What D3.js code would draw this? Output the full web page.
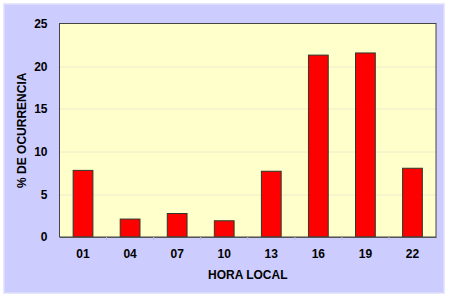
<!DOCTYPE html>
<html>
<head>
<meta charset="utf-8">
<script src="https://cdn.jsdelivr.net/npm/d3@7"></script>
<style>
body { margin: 0; background: #ffffff; }
text { font-family: Arial, "Liberation Sans", sans-serif; font-weight: bold; }
</style>
</head>
<body>
<div id="chart"></div>
<script>
var horas = ["01", "04", "07", "10", "13", "16", "19", "22"];
var ocurrencia = [7.8, 2.1, 2.75, 1.9, 7.7, 21.3, 21.55, 8.05];
var yTicks = [0, 5, 10, 15, 20, 25];

var width = 450, height = 300;
var margin = { top: 23.5, right: 14, bottom: 63, left: 59.5 };
var plotW = width - margin.left - margin.right,
    plotH = height - margin.top - margin.bottom;

var svg = d3.select("#chart").append("svg")
    .attr("width", width)
    .attr("height", height);

// outer lavender panel
svg.append("rect")
    .attr("x", 4).attr("y", 4)
    .attr("width", 440).attr("height", 289)
    .attr("fill", "#ccccff")
    .attr("stroke", "#e0e0fa")
    .attr("stroke-width", 1.5);

var g = svg.append("g")
    .attr("transform", "translate(" + margin.left + "," + margin.top + ")");

var xScale = d3.scaleBand()
    .domain(horas)
    .range([0, plotW])
    .paddingInner(0.58)
    .paddingOuter(0.29);

var yScale = d3.scaleLinear()
    .domain([0, 25])
    .range([plotH, 0]);

// plot background
g.append("rect")
    .attr("width", plotW).attr("height", plotH)
    .attr("fill", "#ffffcc");

// gridlines
g.selectAll(".grid")
    .data(yTicks.slice(1, -1))
    .enter().append("line")
    .attr("x1", 0).attr("x2", plotW)
    .attr("y1", d => Math.round(yScale(d)) + 0.5)
    .attr("y2", d => Math.round(yScale(d)) + 0.5)
    .attr("stroke", "#eeeacc")
    .attr("stroke-width", 1);

// bars
g.selectAll(".bar")
    .data(horas)
    .enter().append("rect")
    .attr("x", d => xScale(d))
    .attr("width", xScale.bandwidth())
    .attr("y", (d, i) => yScale(ocurrencia[i]))
    .attr("height", (d, i) => plotH - yScale(ocurrencia[i]))
    .attr("fill", "#ff0000")
    .attr("stroke", "#2a3a2a")
    .attr("stroke-width", 1);

// plot border
g.append("rect")
    .attr("width", plotW).attr("height", plotH)
    .attr("fill", "none")
    .attr("stroke", "#444")
    .attr("stroke-width", 1);

// x-axis
var xAxis = g.append("g")
    .attr("transform", "translate(0," + plotH + ")")
    .call(d3.axisBottom(xScale).tickSize(0).tickPadding(12));
xAxis.select(".domain").attr("stroke", "#555");
xAxis.selectAll("text").attr("font-size", "12px").attr("fill", "#000");

// category boundary ticks
var step = xScale.step();
g.selectAll(".xminor")
    .data(d3.range(1, horas.length))
    .enter().append("line")
    .attr("x1", d => d * step).attr("x2", d => d * step)
    .attr("y1", plotH).attr("y2", plotH + 3)
    .attr("stroke", "#b8b8e8");

// y-axis
var yAxis = g.append("g")
    .call(d3.axisLeft(yScale).tickValues(yTicks).tickSize(0).tickPadding(12));
yAxis.select(".domain").remove();
yAxis.selectAll("text").attr("font-size", "12px").attr("fill", "#000");

// axis titles
svg.append("text")
    .attr("transform", "rotate(-90)")
    .attr("x", -(margin.top + plotH / 2))
    .attr("y", 26)
    .attr("text-anchor", "middle")
    .attr("font-size", "12px")
    .text("% DE OCURRENCIA");

svg.append("text")
    .attr("x", margin.left + plotW / 2)
    .attr("y", 279)
    .attr("text-anchor", "middle")
    .attr("font-size", "12px")
    .text("HORA LOCAL");
</script>
</body>
</html>
